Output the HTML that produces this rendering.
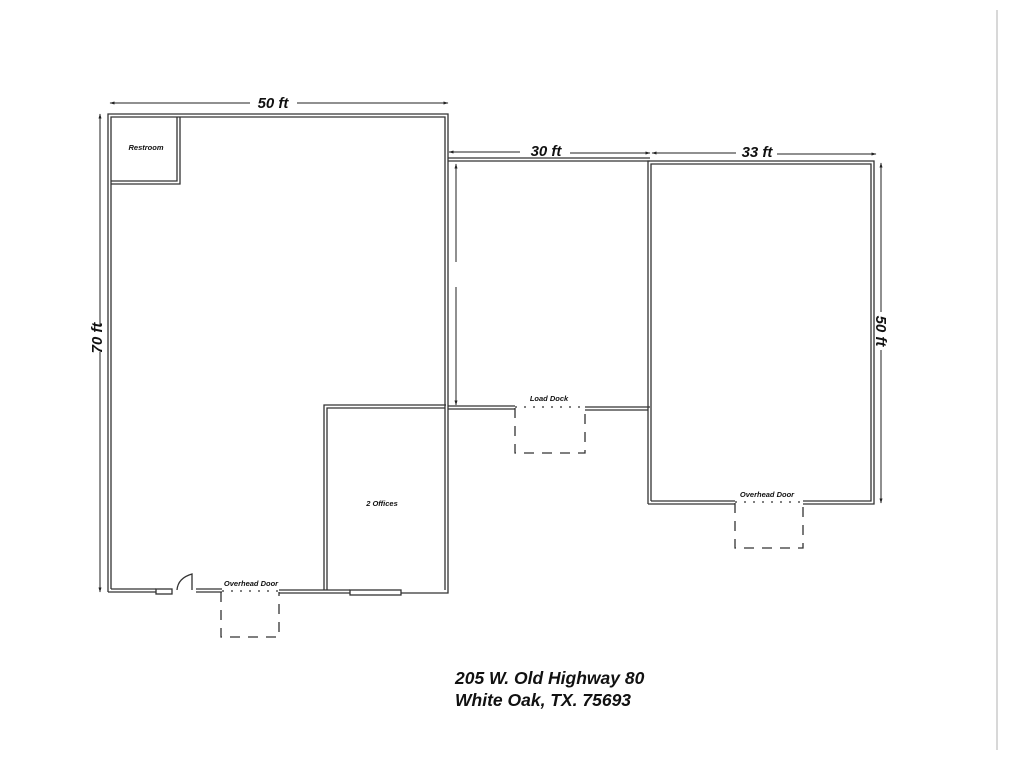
<!DOCTYPE html>
<html><head><style>
body{margin:0;background:#fff;width:1024px;height:768px;overflow:hidden}
svg{display:block}
text{font-family:"Liberation Sans",sans-serif;font-weight:bold;font-style:italic;fill:#111}
</style></head><body>
<svg width="1024" height="768" viewBox="0 0 1024 768">
<defs>
<marker id="a" viewBox="0 0 10 10" refX="9" refY="5" markerWidth="5" markerHeight="5" orient="auto"><path d="M0,2L10,5L0,8z" fill="#222"/></marker>
</defs>
<g fill="none" stroke="#333" stroke-width="1.3">
<path d="M108,592 V114 H448 V593 H401"/>
<path d="M111,589 V117 H445 V590"/>
<path d="M108,592 H156 M196,592 H222"/>
<path d="M111,589 H156 M196,589 H222"/>
<path d="M279,590 H350 M279,593 H350"/>
<rect x="156" y="589" width="16" height="5"/>
<rect x="350" y="590" width="51" height="5"/>
<path d="M177,590 Q178,578 192,574 V590"/>
<path d="M111,181 H177 V117 M111,184 H180 V117"/>
<path d="M324,590 V405 H446 M327,590 V408 H445"/>
<path d="M448,158 H650 M448,161 H650"/>
<path d="M448,406 H515 M448,409 H515"/>
<path d="M585,407 H650 M585,410 H648"/>
<path d="M648,504 V161 H874 V504 H803"/>
<path d="M651,501 V164 H871 V501 H803"/>
<path d="M648,504 H735 M651,501 H735"/>
</g>
<g stroke="#333" stroke-width="1.3" fill="none">
<path d="M222,591 H279" stroke-dasharray="2,7"/>
<path d="M515,407 H585" stroke-dasharray="2,7"/>
<path d="M735,502 H803" stroke-dasharray="2,7"/>
<path d="M221,592 V637 H279 V592 M515,408 V453 H585 V408 M735,503 V548 H803 V503" stroke-dasharray="10,8"/>
</g>
<g stroke="#222" stroke-width="1" fill="none">
<path d="M250,103 H110" marker-end="url(#a)"/>
<path d="M297,103 H448" marker-end="url(#a)"/>
<path d="M100,325 V114" marker-end="url(#a)"/>
<path d="M100,352 V592" marker-end="url(#a)"/>
<path d="M520,152 H449" marker-end="url(#a)"/>
<path d="M570,153 H650" marker-end="url(#a)"/>
<path d="M736,153 H652" marker-end="url(#a)"/>
<path d="M777,154 H876" marker-end="url(#a)"/>
<path d="M881,312 V163" marker-end="url(#a)"/>
<path d="M881,350 V503" marker-end="url(#a)"/>
<path d="M456,262 V164" marker-end="url(#a)"/>
<path d="M456,287 V405" marker-end="url(#a)"/>
</g>
<line x1="997" y1="10" x2="997" y2="750" stroke="#ccc" stroke-width="1.5"/>
<text x="273" y="108" font-size="15" text-anchor="middle">50 ft</text>
<text x="546" y="156" font-size="15" text-anchor="middle">30 ft</text>
<text x="757" y="157" font-size="15" text-anchor="middle">33 ft</text>
<text transform="translate(102,338) rotate(-90)" font-size="15" text-anchor="middle">70 ft</text>
<text transform="translate(876,331) rotate(90)" font-size="15" text-anchor="middle">50 ft</text>
<text x="146" y="150" font-size="7.5" text-anchor="middle">Restroom</text>
<text x="382" y="506" font-size="7.5" text-anchor="middle">2 Offices</text>
<text x="251" y="586" font-size="7.5" text-anchor="middle">Overhead Door</text>
<text x="549" y="401" font-size="7.5" text-anchor="middle">Load Dock</text>
<text x="767" y="497" font-size="7.5" text-anchor="middle">Overhead Door</text>
<text x="455" y="684" font-size="17.5">205 W. Old Highway 80</text>
<text x="455" y="706" font-size="17.5">White Oak, TX. 75693</text>
</svg>
</body></html>
